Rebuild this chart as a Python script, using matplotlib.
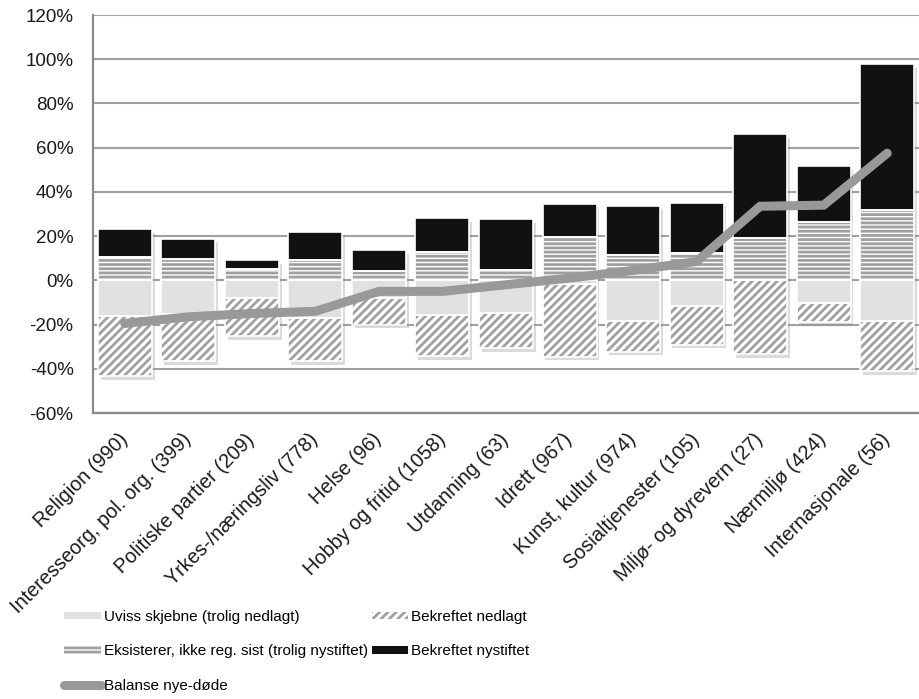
import numpy as np
import matplotlib
matplotlib.use("Agg")
import matplotlib.pyplot as plt
from matplotlib.patches import Patch
from matplotlib.lines import Line2D
import matplotlib.patheffects as pe

categories = ["Religion (990)", "Interesseorg, pol. org. (399)", "Politiske partier (209)",
              "Yrkes-/næringsliv (778)", "Helse (96)", "Hobby og fritid (1058)",
              "Utdanning (63)", "Idrett (967)", "Kunst, kultur (974)",
              "Sosialtjenester (105)", "Miljø- og dyrevern (27)", "Nærmiljø (424)",
              "Internasjonale (56)"]
# percentages (segment sizes)
eksisterer = [10.4, 9.5, 5.0, 9.3, 4.0, 12.7, 4.6, 19.5, 11.6, 12.5, 19.0, 26.2, 32.0]
bekreftet_nystiftet = [12.6, 9.3, 4.0, 12.7, 9.7, 15.3, 23.0, 15.1, 22.1, 22.7, 47.0, 25.4, 65.7]
uviss = [16.3, 15.4, 8.0, 17.1, 7.9, 15.8, 14.9, 1.5, 18.5, 11.5, 0.0, 10.4, 18.6]
bekreftet_nedlagt = [27.1, 21.3, 17.3, 19.6, 12.1, 18.6, 15.9, 33.0, 13.7, 17.7, 33.5, 8.6, 22.6]
balanse = [-19.5, -16.5, -15.0, -14.0, -5.0, -5.0, -2.0, 1.0, 4.5, 8.5, 33.5, 34.0, 57.5]
yticks = [-60, -40, -20, 0, 20, 40, 60, 80, 100, 120]

plt.rcParams['font.family'] = ['Liberation Sans', 'DejaVu Sans']
plt.rcParams['hatch.linewidth'] = 2.0

HATCH_GRAY = '#a0a0a0'
LIGHT = '#e1e1e1'
BLACK = '#111111'
LINE_GRAY = '#999999'
GRID = '#a0a0a0'

fig = plt.figure(figsize=(9.19, 6.99), dpi=100)
ax = fig.add_axes([93 / 919, 1 - 413 / 699, (919 - 93) / 919, (413 - 15) / 699])

x = np.arange(len(categories))
w = 0.85
eks = np.array(eksisterer)
nys = np.array(bekreftet_nystiftet)
uv = np.array(uviss)
ned = np.array(bekreftet_nedlagt)

# background with drop shadow
shadow = [pe.SimplePatchShadow(offset=(2, -2.5), shadow_rgbFace='#888888', alpha=0.3), pe.Normal()]
bg = ax.bar(x, eks + nys + uv + ned, w, bottom=-(uv + ned), color='white',
            edgecolor='white', linewidth=0, zorder=2)
for b in bg:
    b.set_path_effects(shadow)

ax.bar(x, eks, w, bottom=0, color='white', hatch='----', edgecolor=HATCH_GRAY,
       linewidth=0, zorder=3)
ax.bar(x, nys, w, bottom=eks, color=BLACK, edgecolor=BLACK, linewidth=0, zorder=3)
ax.bar(x, -uv, w, bottom=0, color=LIGHT, edgecolor=LIGHT, linewidth=0, zorder=3)
ax.bar(x, -ned, w, bottom=-uv, color='white', hatch='////', edgecolor=HATCH_GRAY,
       linewidth=0, zorder=3)
# white outlines around segments
for vals, bottoms in [(eks, 0 * eks), (nys, eks), (-uv, 0 * uv), (-ned, -uv)]:
    ax.bar(x, vals, w, bottom=bottoms, fill=False, edgecolor='white', linewidth=1.2, zorder=4)

ax.plot(x, balanse, color=LINE_GRAY, linewidth=6.5, solid_capstyle='round',
        solid_joinstyle='miter', zorder=5)

ax.set_xlim(-0.5, len(categories) - 0.5)
ax.set_ylim(-60, 120)
ax.set_yticks(yticks)
ax.set_yticklabels([f"{v}%" for v in yticks])
ax.yaxis.grid(True, color=GRID, linewidth=1.5, zorder=0)
ax.set_axisbelow(True)
ax.set_xticks(x)
ax.set_xticklabels(categories, rotation=45, ha='right', va='center', rotation_mode='anchor')
ax.tick_params(axis='y', length=0, pad=14, labelsize=13.5, labelcolor='#1a1a1a')
ax.tick_params(axis='x', length=0, pad=17, labelsize=14.3, labelcolor='#1a1a1a')
for s in ['top', 'right']:
    ax.spines[s].set_visible(False)
for s in ['left', 'bottom']:
    ax.spines[s].set_color('#8a8a8a')
    ax.spines[s].set_linewidth(1.6)

handles = [
    Patch(facecolor=LIGHT, edgecolor=LIGHT, linewidth=0, label='Uviss skjebne (trolig nedlagt)'),
    Patch(facecolor='white', hatch='----', edgecolor=HATCH_GRAY, linewidth=0,
          label='Eksisterer, ikke reg. sist (trolig nystiftet)'),
    Line2D([0], [0], color=LINE_GRAY, linewidth=6.5, solid_capstyle='round', label='Balanse nye-døde'),
    Patch(facecolor='white', hatch='////', edgecolor=HATCH_GRAY, linewidth=0, label='Bekreftet nedlagt'),
    Patch(facecolor=BLACK, edgecolor=BLACK, linewidth=0, label='Bekreftet nystiftet'),
]
fig.legend(handles=handles, loc='upper left', bbox_to_anchor=(64 / 919, 1 - 610 / 699),
           ncol=2, frameon=False, fontsize=11, handlelength=2.4, handleheight=0.4,
           handletextpad=0.2, columnspacing=0.25, labelspacing=1.33, borderpad=0,
           borderaxespad=0)

fig.savefig('out.png', dpi=100)
